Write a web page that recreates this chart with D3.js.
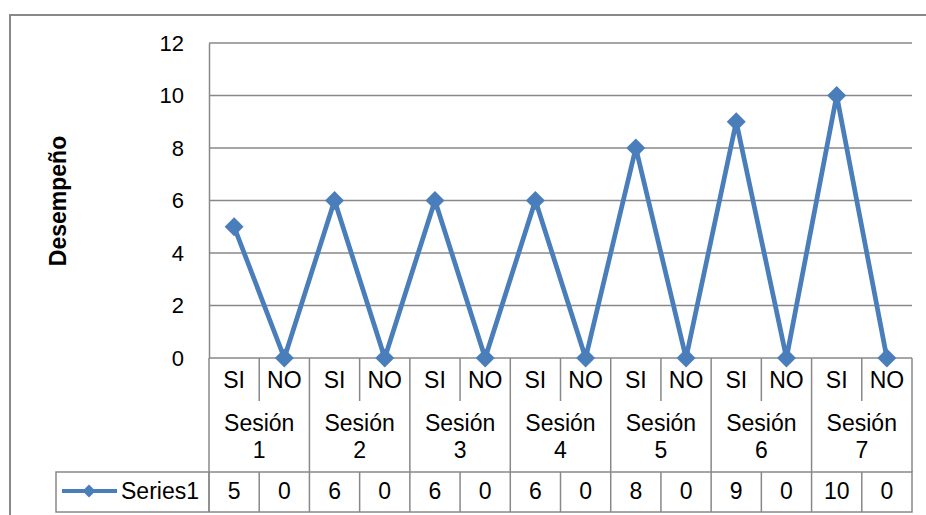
<!DOCTYPE html>
<html lang="en">
<head>
  <meta charset="UTF-8" />
  <title>Desempeño por sesión</title>
  <style>
    html, body { margin: 0; padding: 0; background: #fff; }
    svg { display: block; font-family: "Liberation Sans", Arial, sans-serif; }
  </style>
</head>
<body>
<svg id="chart" width="926" height="515"></svg>
<script src="https://d3js.org/d3.v7.min.js"></script>
<script>
  // Data
  const sessions = ["1", "2", "3", "4", "5", "6", "7"];
  const answers = ["SI", "NO"];
  const values = [5, 0, 6, 0, 6, 0, 6, 0, 8, 0, 9, 0, 10, 0];
  const yTicks = [0, 2, 4, 6, 8, 10, 12];
  const seriesName = "Series1";

  const categories = sessions.flatMap(s => answers.map(a => ({ session: s, answer: a })));

  const svg = d3.select("#chart");
  const blue = "#4a7ebb";
  const grid = "#888";
  const fs = 23;

  const plotLeft = 209, plotRight = 912, plotTop = 43, plotBottom = 358;

  const x = d3.scaleBand()
    .domain(d3.range(categories.length))
    .range([plotLeft, plotRight]);

  const y = d3.scaleLinear()
    .domain([0, 12])
    .range([plotBottom, plotTop]);

  // outer chart border (runs off the right and bottom edges)
  svg.append("rect")
    .attr("x", 10).attr("y", 15)
    .attr("width", 940).attr("height", 520)
    .attr("fill", "none")
    .attr("stroke", grid)
    .attr("stroke-width", 2);

  // gridlines
  svg.append("g")
    .selectAll("line")
    .data(yTicks)
    .enter().append("line")
    .attr("x1", plotLeft).attr("x2", plotRight)
    .attr("y1", d => y(d)).attr("y2", d => y(d))
    .attr("stroke", grid)
    .attr("stroke-width", 1.5);

  // y axis
  const yAxis = svg.append("g")
    .attr("transform", `translate(${plotLeft},0)`)
    .call(d3.axisLeft(y).tickValues(yTicks).tickSize(0).tickPadding(25));
  yAxis.select(".domain").attr("stroke", grid).attr("stroke-width", 1.5);
  yAxis.selectAll("text")
    .attr("font-size", 22)
    .attr("font-family", "Liberation Sans, Arial, sans-serif")
    .attr("fill", "#000");

  // left border continues down through the label rows
  svg.append("line")
    .attr("x1", plotLeft).attr("x2", plotLeft)
    .attr("y1", plotBottom).attr("y2", 512)
    .attr("stroke", grid).attr("stroke-width", 1.5);

  svg.append("text")
    .attr("transform", "translate(66,201) rotate(-90)")
    .attr("text-anchor", "middle")
    .attr("font-size", 23)
    .attr("font-weight", "bold")
    .text("Desempeño");

  // category label table
  const row1 = 401, row2 = 472, row3 = 512;
  const cats = svg.append("g");
  categories.forEach((c, i) => {
    const x0 = x(i), x1 = x(i) + x.bandwidth();
    const isEnd = c.answer === "NO";
    cats.append("line")
      .attr("x1", x1).attr("x2", x1)
      .attr("y1", plotBottom).attr("y2", isEnd ? row2 : row1)
      .attr("stroke", grid).attr("stroke-width", 1.5);
    cats.append("text")
      .attr("x", x0 + x.bandwidth() / 2)
      .attr("y", 388)
      .attr("text-anchor", "middle")
      .attr("font-size", fs)
      .text(c.answer);
  });
  sessions.forEach((s, j) => {
    const cx = x(j * 2) + x.bandwidth();
    const t = cats.append("text")
      .attr("text-anchor", "middle")
      .attr("font-size", fs);
    t.append("tspan").attr("x", cx).attr("y", 431).text("Sesión");
    t.append("tspan").attr("x", cx).attr("y", 458).text(s);
  });

  // data table
  const tbl = svg.append("g");
  tbl.append("rect")
    .attr("x", 56).attr("y", row2)
    .attr("width", plotRight - 56).attr("height", row3 - row2)
    .attr("fill", "none")
    .attr("stroke", grid).attr("stroke-width", 1.5);
  categories.forEach((c, i) => {
    tbl.append("line")
      .attr("x1", x(i)).attr("x2", x(i))
      .attr("y1", row2).attr("y2", row3)
      .attr("stroke", grid).attr("stroke-width", 1.5);
    tbl.append("text")
      .attr("x", x(i) + x.bandwidth() / 2)
      .attr("y", 499)
      .attr("text-anchor", "middle")
      .attr("font-size", fs)
      .text(values[i]);
  });

  // legend key
  tbl.append("line")
    .attr("x1", 62).attr("x2", 117)
    .attr("y1", 491).attr("y2", 491)
    .attr("stroke", blue).attr("stroke-width", 4);
  tbl.append("path")
    .attr("d", d3.symbol().type(d3.symbolSquare).size(85))
    .attr("transform", "translate(89,491) rotate(45)")
    .attr("fill", blue);
  tbl.append("text")
    .attr("x", 121).attr("y", 499)
    .attr("font-size", fs)
    .text(seriesName);

  // series line
  const line = d3.line()
    .x((d, i) => x(i) + x.bandwidth() / 2)
    .y(d => y(d));

  svg.append("path")
    .datum(values)
    .attr("d", line)
    .attr("fill", "none")
    .attr("stroke", blue)
    .attr("stroke-width", 4.75)
    .attr("stroke-linejoin", "round");

  svg.append("g")
    .selectAll("path")
    .data(values)
    .enter().append("path")
    .attr("d", d3.symbol().type(d3.symbolSquare).size(180))
    .attr("transform", (d, i) => `translate(${x(i) + x.bandwidth() / 2},${y(d)}) rotate(45)`)
    .attr("fill", blue);
</script>
</body>
</html>
